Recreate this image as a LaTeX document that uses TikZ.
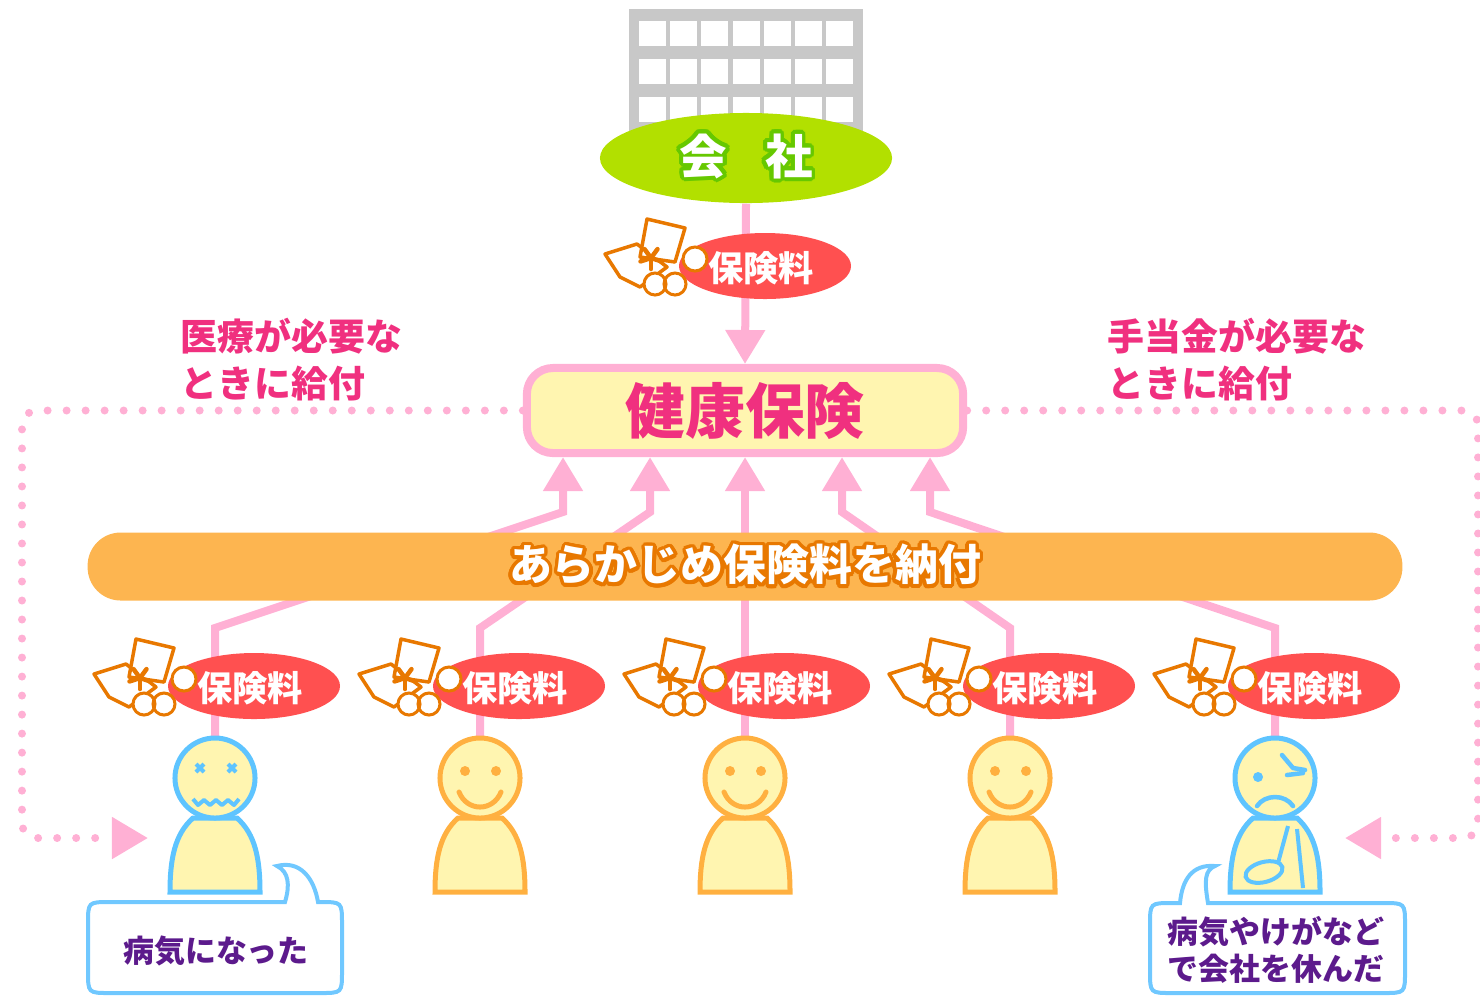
\documentclass[tikz,border=0pt]{standalone}
\usepackage{fontspec}
\setmainfont{Noto Sans CJK JP}
\usepackage{contour}
\contourlength{0.04cm}
\contournumber{24}
\usetikzlibrary{arrows.meta,shapes.geometric}

\definecolor{linepink}{HTML}{FFB0D4}
\definecolor{textpink}{HTML}{F0307F}
\definecolor{cream}{HTML}{FFF5B0}
\definecolor{barorange}{HTML}{FDB550}
\definecolor{darkorange}{HTML}{E87800}
\definecolor{badgered}{HTML}{FF5050}
\definecolor{lime}{HTML}{B2E000}
\definecolor{leafgreen}{HTML}{66C800}
\definecolor{wallgray}{HTML}{C8C8C8}
\definecolor{facefine}{HTML}{FFB040}
\definecolor{facesick}{HTML}{5EC4FF}
\definecolor{bubbleblue}{HTML}{70C8FF}
\definecolor{talkpurple}{HTML}{5C1A8C}

\begin{document}
\begin{tikzpicture}[x=0.01cm, y=-0.01cm,
	pinkline/.style={draw=linepink, line width=0.08cm},
	upto/.style={pinkline, -{Triangle[length=0.34cm, width=0.38cm]}},
	dotline/.style={linepink, line width=0.08cm, line cap=round, dash pattern=on 0pt off 0.19cm, rounded corners=0.15cm, -{Triangle[length=0.36cm, width=0.4cm]}},
	fee/.style={text=white, font=\fontsize{10}{12}\selectfont\bfseries, inner sep=0},
	bill/.style={fill=white, draw=darkorange, line width=0.035cm, line join=round},
	person/.style={fill=cream, line width=0.05cm},
	note/.style={text=textpink, font=\fontsize{10.5}{13.4}\selectfont\bfseries, align=left, inner sep=0, anchor=west},
	talk/.style={text=talkpurple, font=\fontsize{8.8}{10.5}\selectfont\bfseries, align=center, inner sep=0},
	bubble/.style={draw=bubbleblue, fill=white, line width=0.04cm}]
	\useasboundingbox (0,0) rectangle (1480,996);

	% office building
	\fill[wallgray] (629,9) rectangle (863,140);
	\foreach \i in {0,...,6}
		\foreach \j in {0,1,2}
			\fill[white] ({639+31.2*\i},{21+38*\j}) rectangle +(27,25);
	\node[ellipse, fill=lime, minimum width=2.92cm, minimum height=0.9cm, inner sep=0, text=white,
		font=\fontsize{13.5}{14}\selectfont\bfseries] (kaisha) at (746,158)
		{\contour{leafgreen}{会\hspace{0.8em}社}};

	% health insurance
	\node[draw=linepink, fill=cream, line width=0.08cm, rounded corners=0.26cm, minimum width=4.36cm,
		minimum height=0.85cm, text=textpink, font=\fontsize{17}{18}\selectfont\bfseries] (kenpo) at (745,410.5) {健康保険};
	\draw[upto] (kaisha.south) -- (kenpo.north);

	% premiums paid by everyone
	\foreach \px/\ax [count=\i] in {215/563, 480/650, 745/745, 1010/842, 1275/930} {
		\coordinate (top\i) at (\px,737);
		\draw[upto] (top\i) -- (\px,628) -- (\ax,512) -- (\ax,512 |- kenpo.south);
	}
	\node[fill=barorange, rounded corners=0.33cm, minimum width=13.14cm, minimum height=0.67cm, text=white,
		font=\fontsize{12.2}{13}\selectfont\bfseries] (nofu) at (745,566.5)
		{\contourlength{0.035cm}\contour{darkorange}{あらかじめ保険料を納付}};

	% benefits
	\coordinate (sickin) at (148,838);
	\coordinate (hurtin) at (1345,838);
	\draw[dotline] (kenpo.west) -- (22,410.5) -- (22,838) -- (sickin);
	\draw[dotline] (kenpo.east) -- (1478,410.5) -- (1478,838) -- (hurtin);
	\node[note] (iryo) at (180,360) {医療が必要な\\ときに給付};
	\node[note] (teate) at (1107,360) {手当金が必要な\\ときに給付};

	% premium badges
	\foreach \bx/\by [count=\i] in {765/266, 254/686, 519/686, 784/686, 1049/686, 1314/686} {
		\begin{scope}[shift={(\bx,\by)}]
			\fill[badgered] (0,0) ellipse [x radius=86, y radius=33];
			\filldraw[bill] (-160,-12) -- (-128,-22) -- (-98,1) -- (-125,21) -- (-145,11) -- cycle;
			\filldraw[bill] (-118,-47) -- (-80,-38) -- (-90,-4) -- (-125,-9) -- cycle;
			\foreach \a in {90,162,...,378}
				\draw[darkorange, line width=0.045cm, line cap=round] (-114,-8) -- ++(\a:11);
			\filldraw[fill=white, draw=darkorange, line width=0.03cm]
				(-70,-7) circle [radius=0.12cm] (-110,18) circle [radius=0.11cm] (-90,18) circle [radius=0.11cm];
			\node[fee] (fee\i) at (-4,2) {保険料};
		\end{scope}
	}

	% people
	\foreach \px/\col [count=\i] in {215/facesick, 480/facefine, 745/facefine, 1010/facefine, 1275/facesick} {
		\filldraw[person, draw=\col] ({\px-22},818) .. controls ({\px-40},834) and ({\px-45},858) .. ({\px-45},892)
			-- ({\px+45},892) .. controls ({\px+45},858) and ({\px+40},834) .. ({\px+22},818) -- cycle;
		\node[person, draw=\col, circle, minimum size=0.8cm, inner sep=0] (head\i) at (\px,778) {};
	}
	\foreach \px in {480,745,1010} {
		\fill[facefine] ({\px-15},771) circle [radius=0.05cm] ({\px+16},771) circle [radius=0.05cm];
		\draw[facefine, line width=0.05cm, line cap=round] ({\px-21},792) .. controls ({\px-13},812) and ({\px+13},812) .. ({\px+21},792);
	}
	% fell ill
	\draw[facesick, line width=0.04cm] (196,764) -- (204,772) (196,772) -- (204,764) (228,764) -- (236,772) (228,772) -- (236,764);
	\draw[facesick, line width=0.04cm, line join=round] (193,799) -- (198,805) -- (204,800) -- (210,805) -- (216,800)
		-- (222,805) -- (228,800) -- (234,805) -- (239,799);
	% injured
	\fill[facesick] (1258,777) circle [radius=0.05cm];
	\draw[facesick, line width=0.045cm, line cap=round, line join=round] (1282,755) -- (1293,768) -- (1305,770);
	\draw[facesick, line width=0.045cm, line cap=round] (1287,775) -- (1303,773);
	\draw[facesick, line width=0.045cm, line cap=round] (1257,806) .. controls (1265,794) and (1285,794) .. (1293,806);
	\draw[facesick, line width=0.04cm] (1288,826) -- (1275,874) (1297,829) -- (1303,888);
	\filldraw[fill=cream, draw=facesick, line width=0.04cm, rotate around={15:(1264,872)}] (1264,872) ellipse [x radius=19, y radius=10];

	% speech bubbles
	\draw[bubble] (110,902) -- (285,902) .. controls (290,885) and (289,872) .. (277,866)
		.. controls (300,860) and (314,878) .. (318,902) -- (320,902) .. controls (342,902) .. (342,924)
		-- (342,971) .. controls (342,993) .. (320,993) -- (110,993) .. controls (88,993) .. (88,971)
		-- (88,924) .. controls (88,902) .. (110,902) -- cycle;
	\node[talk] (byoki) at (216,951) {病気になった};
	\draw[bubble] (1172,903) .. controls (1150,903) .. (1150,925) -- (1150,971) .. controls (1150,993) .. (1172,993)
		-- (1383,993) .. controls (1405,993) .. (1405,971) -- (1405,925) .. controls (1405,903) .. (1383,903)
		-- (1208,903) .. controls (1204,880) and (1205,870) .. (1215,866)
		.. controls (1192,864) and (1182,880) .. (1180,903) -- cycle;
	\node[talk] (yasumi) at (1276,950) {病気やけがなど\\で会社を休んだ};
\end{tikzpicture}
\end{document}
